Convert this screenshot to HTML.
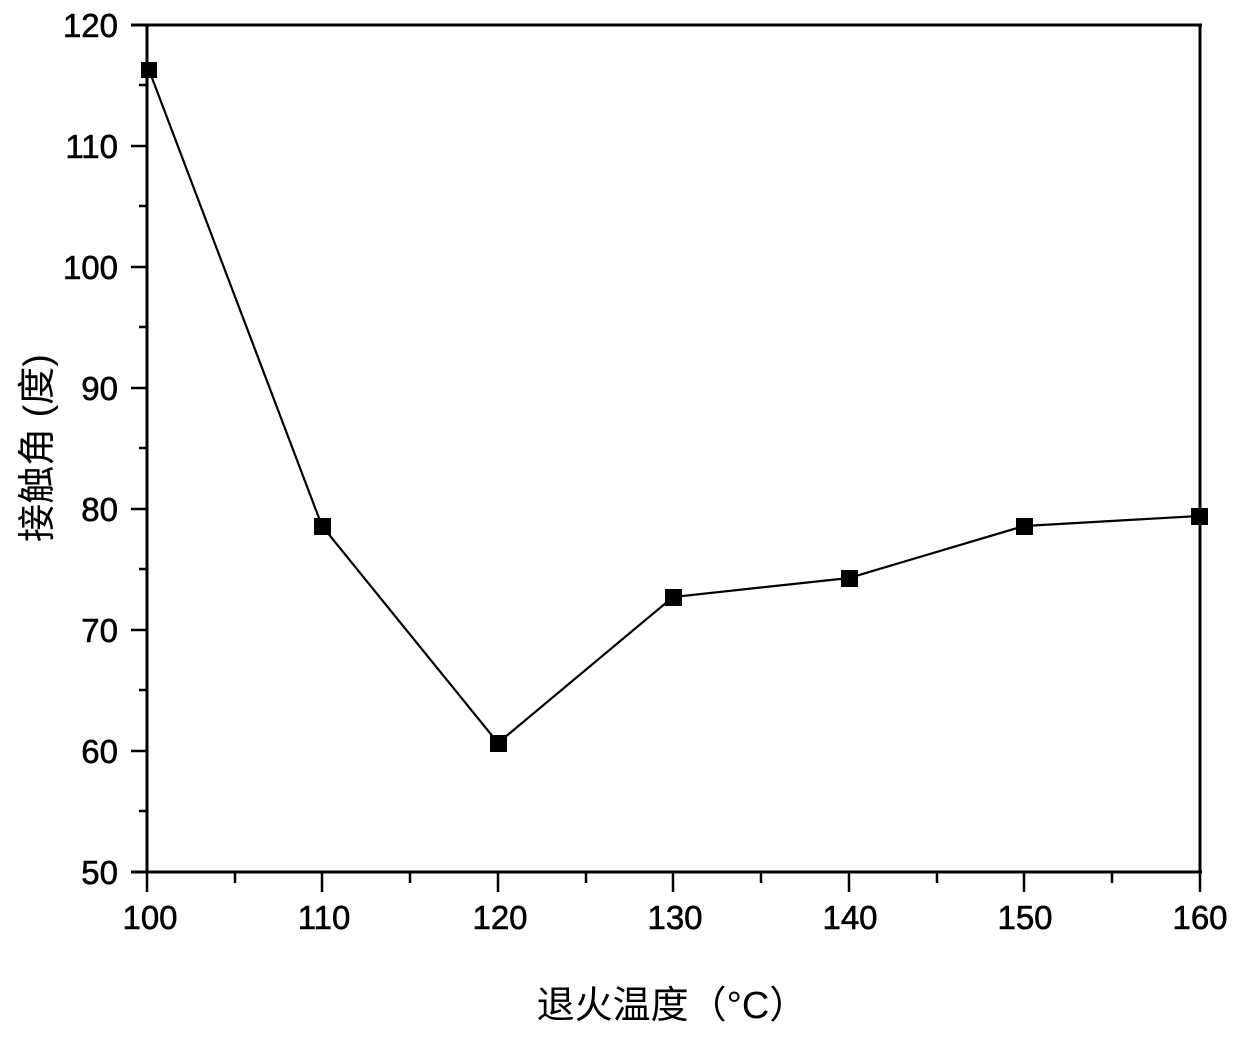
<!DOCTYPE html>
<html><head><meta charset="utf-8"><style>body{margin:0;background:#fff}</style></head><body>
<svg width="1240" height="1035" xmlns="http://www.w3.org/2000/svg" font-family="Liberation Sans, Arial, sans-serif">
<rect width="1240" height="1035" fill="#fff"/>
<g stroke="#000" stroke-width="3" fill="none">
<line x1="131" y1="25" x2="1202" y2="25"/>
<line x1="131" y1="872" x2="1202" y2="872"/>
<line x1="147" y1="25" x2="147" y2="872"/>
<line x1="1200" y1="25" x2="1200" y2="872"/>
</g>
<g stroke="#000" stroke-width="2.5">
<line x1="131" y1="146" x2="147" y2="146"/><line x1="131" y1="267" x2="147" y2="267"/><line x1="131" y1="388" x2="147" y2="388"/><line x1="131" y1="509" x2="147" y2="509"/><line x1="131" y1="630" x2="147" y2="630"/><line x1="131" y1="751" x2="147" y2="751"/>
<line x1="139" y1="85" x2="147" y2="85"/><line x1="139" y1="206" x2="147" y2="206"/><line x1="139" y1="327" x2="147" y2="327"/><line x1="139" y1="448" x2="147" y2="448"/><line x1="139" y1="569" x2="147" y2="569"/><line x1="139" y1="690" x2="147" y2="690"/><line x1="139" y1="811" x2="147" y2="811"/>
<line x1="147" y1="872" x2="147" y2="892"/><line x1="322" y1="872" x2="322" y2="892"/><line x1="498" y1="872" x2="498" y2="892"/><line x1="673" y1="872" x2="673" y2="892"/><line x1="849" y1="872" x2="849" y2="892"/><line x1="1024" y1="872" x2="1024" y2="892"/><line x1="1200" y1="872" x2="1200" y2="892"/>
<line x1="235" y1="872" x2="235" y2="883"/><line x1="410" y1="872" x2="410" y2="883"/><line x1="586" y1="872" x2="586" y2="883"/><line x1="761" y1="872" x2="761" y2="883"/><line x1="937" y1="872" x2="937" y2="883"/><line x1="1112" y1="872" x2="1112" y2="883"/>
</g>
<g font-size="33" text-anchor="end" fill="#000" stroke="#000" stroke-width="0.6">
<text x="118" y="37">120</text><text x="118" y="158">110</text><text x="118" y="279">100</text><text x="118" y="400">90</text><text x="118" y="521">80</text><text x="118" y="642">70</text><text x="118" y="763">60</text><text x="118" y="884">50</text>
</g>
<g font-size="33" text-anchor="middle" fill="#000" stroke="#000" stroke-width="0.6">
<text x="150" y="929">100</text><text x="324" y="929">110</text><text x="500" y="929">120</text><text x="675" y="929">130</text><text x="850" y="929">140</text><text x="1025" y="929">150</text><text x="1200" y="929">160</text>
</g>
<text x="672" y="1018" font-size="38" text-anchor="middle" font-family="Liberation Sans, Noto Sans CJK SC, sans-serif">退火温度（°C）</text>
<text transform="translate(50,448) rotate(-90)" font-size="38" text-anchor="middle" font-family="Liberation Sans, Noto Sans CJK SC, sans-serif">接触角 (度)</text>
<polyline fill="none" stroke="#000" stroke-width="2.2" points="149,70 322,526 498,743 673,597 849,578 1024,526 1199,516"/>
<g fill="#000">
<rect x="141" y="62" width="16" height="16"/><rect x="314" y="518" width="17" height="17"/><rect x="490" y="735" width="17" height="17"/><rect x="665" y="589" width="17" height="17"/><rect x="841" y="570" width="17" height="17"/><rect x="1016" y="518" width="17" height="17"/><rect x="1191" y="508" width="17" height="17"/>
</g>
</svg>
</body></html>
